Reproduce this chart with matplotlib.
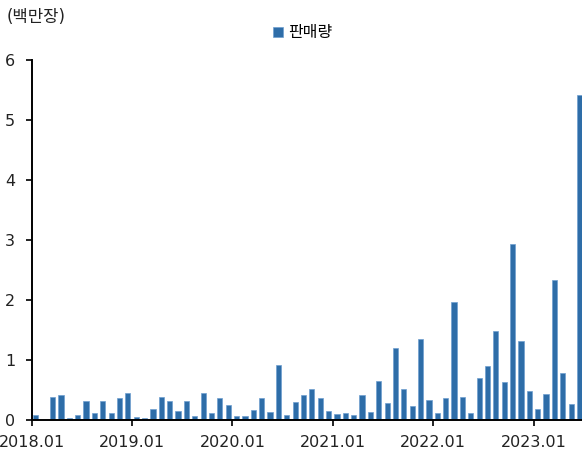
import numpy as np
import matplotlib
matplotlib.use('Agg')
import matplotlib.pyplot as plt

plt.rcParams['font.family'] = ['DejaVu Sans', 'Noto Sans CJK KR']

# 월별 판매량 (백만장), 2018.01 ~ 2023.06
months = ['%d.%02d' % (y, m) for y in range(2018, 2024) for m in range(1, 13)][:66]
sales = [0.09, 0.00, 0.39, 0.41, 0.04, 0.09, 0.32, 0.11, 0.32, 0.11, 0.36, 0.45,
         0.05, 0.03, 0.19, 0.39, 0.31, 0.15, 0.31, 0.06, 0.45, 0.11, 0.36, 0.25,
         0.07, 0.06, 0.16, 0.36, 0.14, 0.91, 0.09, 0.30, 0.41, 0.52, 0.36, 0.15,
         0.10, 0.11, 0.09, 0.41, 0.14, 0.65, 0.28, 1.20, 0.51, 0.24, 1.35, 0.34,
         0.11, 0.36, 1.96, 0.38, 0.11, 0.70, 0.90, 1.49, 0.63, 2.93, 1.32, 0.48,
         0.18, 0.44, 2.34, 0.79, 0.26, 5.41]
tick_labels = ['2018.01', '2019.01', '2020.01', '2021.01', '2022.01', '2023.01']
bar_color = '#2e6da8'

fig = plt.figure(figsize=(5.82, 4.54), dpi=100)
ax = fig.add_axes([31.7/582, 34/454, 552/582, 360/454])

x = np.arange(len(sales))
ax.bar(x, sales, width=0.62, color=bar_color, edgecolor='#6f9fd0', linewidth=0.5, label='판매량')

ax.set_xlim(-0.5, len(sales) - 0.5)
ax.set_ylim(0, 6)
ax.set_yticks(range(0, 7))
ax.set_xticks([months.index(t) - 0.5 for t in tick_labels])
ax.set_xticklabels(tick_labels)

for s in ['top', 'right']:
    ax.spines[s].set_visible(False)
for s in ['left', 'bottom']:
    ax.spines[s].set_linewidth(1.4)
    ax.spines[s].set_color('black')

ax.tick_params(axis='y', direction='out', length=4.5, width=1.4, pad=7.5, labelsize=11.5, colors='#222222')
ax.tick_params(axis='x', direction='out', length=4, width=1.4, pad=6.5, labelsize=11.5, colors='#222222')
for lab in ax.get_xticklabels() + ax.get_yticklabels():
    lab.set_color('#222222')

fig.text(7/582, 1 - 17/454, '(백만장)', ha='left', va='center', fontsize=12, color='#222222')

ax.legend(loc='center', bbox_to_anchor=(0.491, 1.075), frameon=False, fontsize=11.5,
          handlelength=0.6, handleheight=0.6, handletextpad=0.3, borderpad=0)

fig.savefig('out.png', dpi=100)
